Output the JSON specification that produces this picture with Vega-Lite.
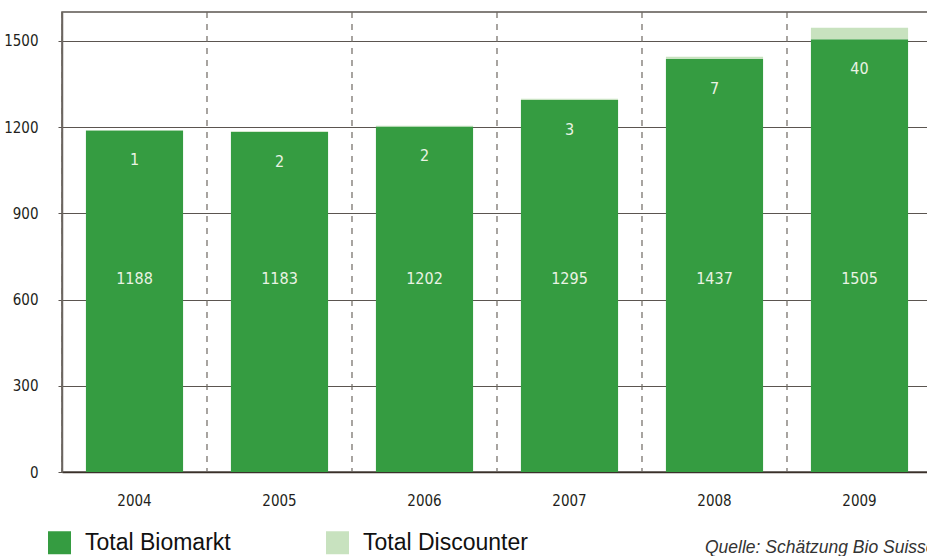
{
  "$schema": "https://vega.github.io/schema/vega-lite/v6.json",
  "width": 870,
  "height": 460,
  "autosize": "none",
  "padding": {"left": 62, "top": 12, "right": -5, "bottom": 84},
  "background": "white",
  "config": {
    "font": "DejaVu Sans Condensed, Liberation Sans",
    "view": {"stroke": "#5b5550", "strokeWidth": 1.5}
  },
  "title": {
    "text": "Quelle: Schätzung Bio Suisse",
    "orient": "bottom",
    "anchor": "start",
    "frame": "group",
    "dx": 643,
    "offset": -16,
    "font": "Liberation Sans",
    "fontStyle": "italic",
    "fontWeight": "normal",
    "fontSize": 17.5,
    "color": "#333333"
  },
  "data": {
    "values": [
      {"year": "2004", "category": "Total Biomarkt", "value": 1188},
      {"year": "2004", "category": "Total Discounter", "value": 1},
      {"year": "2005", "category": "Total Biomarkt", "value": 1183},
      {"year": "2005", "category": "Total Discounter", "value": 2},
      {"year": "2006", "category": "Total Biomarkt", "value": 1202},
      {"year": "2006", "category": "Total Discounter", "value": 2},
      {"year": "2007", "category": "Total Biomarkt", "value": 1295},
      {"year": "2007", "category": "Total Discounter", "value": 3},
      {"year": "2008", "category": "Total Biomarkt", "value": 1437},
      {"year": "2008", "category": "Total Discounter", "value": 7},
      {"year": "2009", "category": "Total Biomarkt", "value": 1505},
      {"year": "2009", "category": "Total Discounter", "value": 40}
    ]
  },
  "encoding": {
    "x": {
      "field": "year",
      "type": "ordinal",
      "scale": {"paddingInner": 0.33, "paddingOuter": 0.165},
      "axis": {
        "title": null,
        "labelAngle": 0,
        "labelFontSize": 15,
        "labelColor": "#231f20",
        "labelPadding": 21,
        "ticks": false,
        "domainColor": "#3a302a",
        "domainWidth": 1.5,
        "grid": false
      }
    }
  },
  "layer": [
    {
      "transform": [{"filter": "datum.category === 'Total Biomarkt'"}],
      "mark": {"type": "rule", "strokeDash": [6, 6], "color": "#6e6862", "strokeWidth": 1.2},
      "encoding": {
        "x": {"field": "year", "type": "ordinal", "bandPosition": -0.2463}
      }
    },
    {
      "mark": {"type": "bar"},
      "encoding": {
        "y": {
          "field": "value",
          "type": "quantitative",
          "stack": "zero",
          "scale": {"domain": [0, 1600], "nice": false},
          "axis": {
            "title": null,
            "values": [0, 300, 600, 900, 1200, 1500],
            "format": "d",
            "labelFontSize": 15,
            "labelColor": "#231f20",
            "labelPadding": 20,
            "tickSize": 4,
            "tickColor": "#5b5550",
            "domainColor": "#6b6560",
            "domainWidth": 1.5,
            "gridColor": "#5b5550",
            "gridWidth": 1.2,
            "gridOpacity": 1
          }
        },
        "color": {
          "field": "category",
          "type": "nominal",
          "scale": {
            "domain": ["Total Biomarkt", "Total Discounter"],
            "range": ["#359c41", "#c8e2bf"]
          },
          "legend": {
            "title": null,
            "orient": "none",
            "legendX": -14,
            "legendY": 519,
            "direction": "horizontal",
            "symbolType": "square",
            "symbolSize": 529,
            "symbolStrokeWidth": 0,
            "symbolOpacity": 1,
            "labelFont": "Liberation Sans",
            "labelFontSize": 23,
            "labelColor": "#111111",
            "labelOffset": 14,
            "labelLimit": 400,
            "columnPadding": 95
          }
        },
        "order": {"field": "category", "sort": "ascending"}
      }
    },
    {
      "transform": [{"filter": "datum.category === 'Total Biomarkt'"}],
      "mark": {"type": "text", "fontSize": 16, "color": "#eaf3e4", "baseline": "middle"},
      "encoding": {
        "y": {"datum": 670},
        "text": {"field": "value", "type": "quantitative"}
      }
    },
    {
      "transform": [
        {"pivot": "category", "value": "value", "groupby": ["year"]}
      ],
      "mark": {"type": "text", "fontSize": 16, "color": "#eaf3e4", "baseline": "middle", "dy": 30},
      "encoding": {
        "y": {"field": "Total Biomarkt", "type": "quantitative"},
        "text": {"field": "Total Discounter", "type": "quantitative"}
      }
    }
  ]
}
